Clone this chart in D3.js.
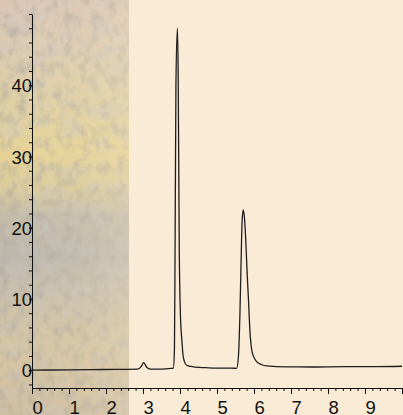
<!DOCTYPE html>
<html>
<head>
<meta charset="utf-8">
<script src="https://cdn.jsdelivr.net/npm/d3@7"></script>
<style>
  html, body { margin: 0; padding: 0; background: #FAEBD7; }
  svg { display: block; }
</style>
</head>
<body>
<svg id="chart" width="403" height="415"></svg>
<script>
// Retention time (min) and detector response of the chromatogram trace
const times = [0, 1.0, 2.0, 2.85, 2.95, 3.02, 3.1, 3.2, 3.5, 3.75,
  3.82, 3.85, 3.865, 3.89, 3.93, 3.95, 3.98, 4.01, 4.05, 4.08, 4.12, 4.18, 4.3, 4.41, 4.7, 5.0, 5.4,
  5.53, 5.58, 5.62, 5.65, 5.68, 5.71, 5.74, 5.78, 5.82, 5.85, 5.89, 5.94, 6.0, 6.07, 6.2, 6.34, 6.88,
  7.5, 8.5, 9.3, 10];
const signal = [0, 0.05, 0.1, 0.15, 0.5, 1.05, 0.4, 0.15, 0.15, 0.25,
  0.3, 3, 15, 40, 48, 42, 17, 8, 4.2, 2.2, 1.2, 0.7, 0.52, 0.42, 0.35, 0.3, 0.3,
  0.25, 2, 8, 15, 21, 22.5, 21.5, 18, 13, 10, 5.5, 2.8, 1.8, 1.2, 0.8, 0.6, 0.46,
  0.45, 0.5, 0.5, 0.55];

// Axis ticks and labels
const xMajorTicks = [0, 1, 2, 3, 4, 5, 6, 7, 8, 9, 10];
const xTickLabels = ["0", "1", "2", "3", "4", "5", "6", "7", "8", "9", ""];
const yMajorTicks = [0, 10, 20, 30, 40];
const yTickLabels = ["0", "10", "20", "30", "40"];

const width = 403, height = 415;
const svg = d3.select("#chart");

const x = d3.scaleLinear().domain([0, 10]).range([32, 402]);
const y = d3.scaleLinear().domain([-2.5, 50]).range([388, 14]);

// Background: plain beige with a textured, map-like panel on the left
const defs = svg.append("defs");
const grad = defs.append("linearGradient").attr("id", "panelGrad")
  .attr("x1", 0).attr("y1", 0).attr("x2", 0).attr("y2", 1);
[[0, "#dcc6b4"], [0.12, "#dccbb0"], [0.25, "#e0cfa3"], [0.36, "#e8d394"],
 [0.45, "#dccb9c"], [0.52, "#c4bca8"], [0.62, "#bdb8ac"], [0.72, "#cbc0a8"],
 [0.85, "#d6c4a2"], [1, "#d0bea0"]].forEach(([o, c]) =>
  grad.append("stop").attr("offset", o).attr("stop-color", c));

const fade = defs.append("linearGradient").attr("id", "panelFade")
  .attr("x1", 0).attr("y1", 0).attr("x2", 1).attr("y2", 0);
fade.append("stop").attr("offset", 0).attr("stop-color", "#fff").attr("stop-opacity", 0);
fade.append("stop").attr("offset", 0.6).attr("stop-color", "#f6e6c8").attr("stop-opacity", 0.1);
fade.append("stop").attr("offset", 1).attr("stop-color", "#f6e6c8").attr("stop-opacity", 0.3);

// Fine grain plus coarser blotches for the printed-map look
const grain = defs.append("filter").attr("id", "grain")
  .attr("x", 0).attr("y", 0).attr("width", 1).attr("height", 1);
grain.append("feTurbulence").attr("type", "fractalNoise")
  .attr("baseFrequency", "0.11 0.08").attr("numOctaves", 4).attr("seed", 7);
grain.append("feColorMatrix").attr("type", "matrix")
  .attr("values", "0 0 0 0 0.40  0 0 0 0 0.37  0 0 0 0 0.32  0 0 -2.4 0 1.35");

const blotch = defs.append("filter").attr("id", "blotch")
  .attr("x", 0).attr("y", 0).attr("width", 1).attr("height", 1);
blotch.append("feTurbulence").attr("type", "turbulence")
  .attr("baseFrequency", "0.035 0.05").attr("numOctaves", 2).attr("seed", 3);
blotch.append("feColorMatrix").attr("type", "matrix")
  .attr("values", "0 0 0 0 0.55  0 0 0 0 0.55  0 0 0 0 0.56  2.2 0 0 0 -0.35");

svg.append("rect").attr("width", width).attr("height", height).attr("fill", "#FAEBD7");
const panel = svg.append("g");
panel.append("rect").attr("x", 0).attr("y", 0).attr("width", 129).attr("height", height)
  .attr("fill", "url(#panelGrad)");
panel.append("rect").attr("x", 0).attr("y", 0).attr("width", 129).attr("height", height)
  .attr("filter", "url(#blotch)").attr("opacity", 0.35);
panel.append("rect").attr("x", 0).attr("y", 0).attr("width", 129).attr("height", height)
  .attr("filter", "url(#grain)").attr("opacity", 0.5);
panel.append("rect").attr("x", 0).attr("y", 0).attr("width", 129).attr("height", height)
  .attr("fill", "url(#panelFade)");

// Chromatogram trace
const points = times.map((t, i) => [t, signal[i]]);
svg.append("path")
  .datum(points)
  .attr("fill", "none")
  .attr("stroke", "#1e1e1e")
  .attr("stroke-width", 1.3)
  .attr("stroke-linejoin", "round")
  .attr("d", d3.line().x(d => x(d[0])).y(d => y(d[1])).curve(d3.curveMonotoneX));

const font = "'Liberation Sans', Arial, sans-serif";

// X axis: minor ticks every 0.2, major ticks with labels every 1
const xMinor = d3.range(0, 10.001, 0.2).map(v => +v.toFixed(1));
svg.append("g").attr("transform", `translate(0,${y(-2.5)})`)
  .call(d3.axisBottom(x).tickValues(xMinor).tickSize(3).tickSizeOuter(0).tickFormat(""))
  .call(g => g.selectAll("line, path").attr("stroke", "#111"));
const xAxis = svg.append("g").attr("transform", `translate(0,${y(-2.5)})`)
  .call(d3.axisBottom(x).tickValues(xMajorTicks).tickSize(6).tickSizeOuter(0)
    .tickFormat((d, i) => xTickLabels[i]));
xAxis.selectAll("line, path").attr("stroke", "#111");
xAxis.selectAll("text")
  .attr("font-family", font).attr("font-size", 18.5).attr("fill", "#111")
  .attr("text-anchor", "start").attr("dy", null).attr("y", 25.5);

// Y axis: minor ticks every 2, labelled major ticks every 10
const yMinor = d3.range(-2, 50.001, 2);
svg.append("g").attr("transform", `translate(${x(0)},0)`)
  .call(d3.axisLeft(y).tickValues(yMinor).tickSize(3).tickSizeOuter(0).tickFormat(""))
  .call(g => g.selectAll("line, path").attr("stroke", "#111"));
const yAxis = svg.append("g").attr("transform", `translate(${x(0)},0)`)
  .call(d3.axisLeft(y).tickValues(yMajorTicks).tickSize(3).tickSizeOuter(0)
    .tickFormat((d, i) => yTickLabels[i]));
yAxis.select(".domain").remove();
yAxis.selectAll("line").attr("stroke", "#111");
yAxis.selectAll("text")
  .attr("font-family", font).attr("font-size", 18.5).attr("fill", "#111")
  .attr("x", 0).attr("dy", "0.36em");
</script>
</body>
</html>
